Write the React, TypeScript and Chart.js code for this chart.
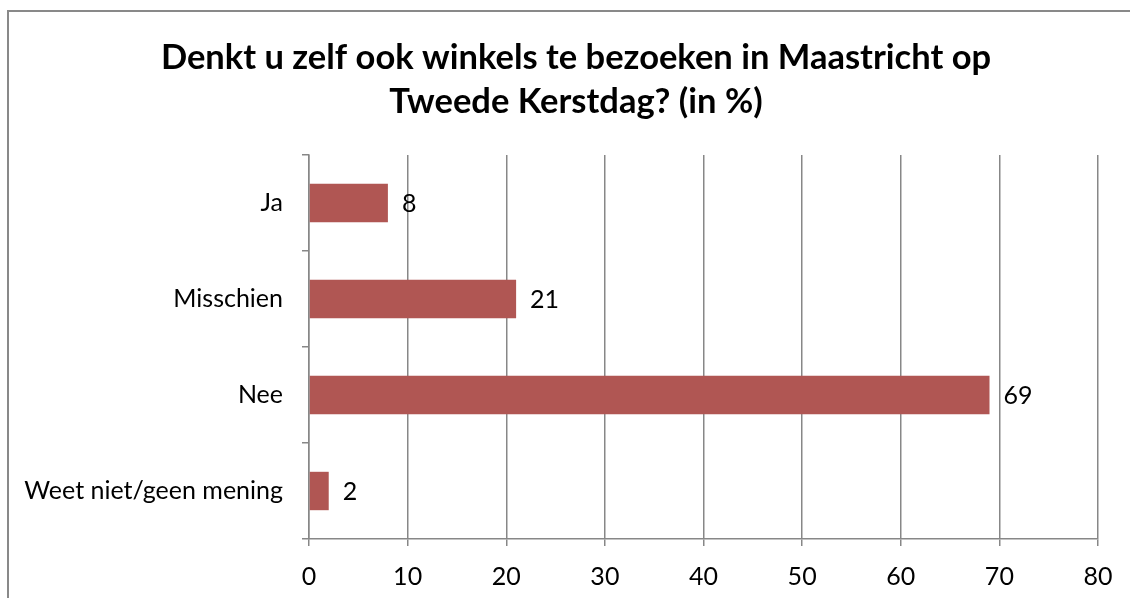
import React, { useEffect, useRef } from "react";
import { Chart, registerables } from "chart.js";

Chart.register(...registerables);

const categories: string[] = ["Ja", "Misschien", "Nee", "Weet niet/geen mening"];
const values: number[] = [8, 21, 69, 2];
const titleLines: string[] = ["Denkt u zelf ook winkels te bezoeken in Maastricht op", "Tweede Kerstdag? (in %)"];
const xMin = 0;
const xMax = 80;
const xStep = 10;

const FONT = "Lato, 'Open Sans', sans-serif";
const GRID = "#878787";
const BAR = "#B05653";

const valueLabels = {
  id: "valueLabels",
  afterDatasetsDraw(chart: any) {
    const ctx = chart.ctx;
    const meta = chart.getDatasetMeta(0);
    ctx.save();
    ctx.font = `25px ${FONT}`;
    ctx.fillStyle = "#000";
    ctx.textAlign = "left";
    ctx.textBaseline = "middle";
    meta.data.forEach((el: any, i: number) => {
      ctx.fillText(String(values[i]), el.x + 14, el.y + 1);
    });
    ctx.restore();
  },
};

const titlePlugin = {
  id: "titleText",
  afterDraw(chart: any) {
    const ctx = chart.ctx;
    ctx.save();
    ctx.font = `bold 34.5px ${FONT}`;
    ctx.fillStyle = "#000";
    ctx.textAlign = "center";
    ctx.textBaseline = "middle";
    const ys = [58, 102];
    titleLines.forEach((t, i) => ctx.fillText(t, 576, ys[i]));
    ctx.restore();
  },
};

export default function App() {
  const ref = useRef<HTMLCanvasElement | null>(null);
  useEffect(() => {
    if (!ref.current) return;
    const chart = new Chart(ref.current, {
      type: "bar",
      data: {
        labels: categories,
        datasets: [
          {
            data: values,
            backgroundColor: BAR,
            borderWidth: 0,
            barPercentage: 0.4,
            categoryPercentage: 1,
          },
        ],
      },
      options: {
        indexAxis: "y",
        responsive: false,
        animation: false,
        layout: { padding: { left: 0, right: 32, top: 155, bottom: 0 } },
        plugins: {
          legend: { display: false },
          tooltip: { enabled: false },
          title: { display: false },
        },
        scales: {
          x: {
            min: xMin,
            max: xMax,
            ticks: { stepSize: xStep, color: "#000", font: { family: FONT, size: 25 }, padding: 16 },
            grid: { color: GRID, lineWidth: 1.5, tickLength: 7, drawOnChartArea: true },
            border: { color: GRID, width: 1.5 },
            afterFit(scale: any) {
              scale.height = 59;
            },
          },
          y: {
            offset: true,
            ticks: { color: "#000", font: { family: FONT, size: 25 }, padding: 19 },
            grid: { offset: true, drawOnChartArea: false, color: GRID, lineWidth: 1.5, tickLength: 7 },
            border: { color: GRID, width: 1.5 },
            afterFit(scale: any) {
              scale.width = 309;
            },
          },
        },
      },
      plugins: [valueLabels, titlePlugin],
    });
    return () => chart.destroy();
  }, []);
  return (
    <div style={{ position: "fixed", left: 0, top: 0, width: 1130, height: 598, background: "#fff", overflow: "hidden" }}>
      <div
        style={{
          position: "absolute",
          left: 7,
          top: 10,
          width: 1300,
          height: 800,
          borderTop: "2px solid #898989",
          borderLeft: "2px solid #898989",
        }}
      />
      <canvas ref={ref} width={1130} height={598} style={{ position: "absolute", left: 0, top: 0, width: 1130, height: 598 }} />
    </div>
  );
}
